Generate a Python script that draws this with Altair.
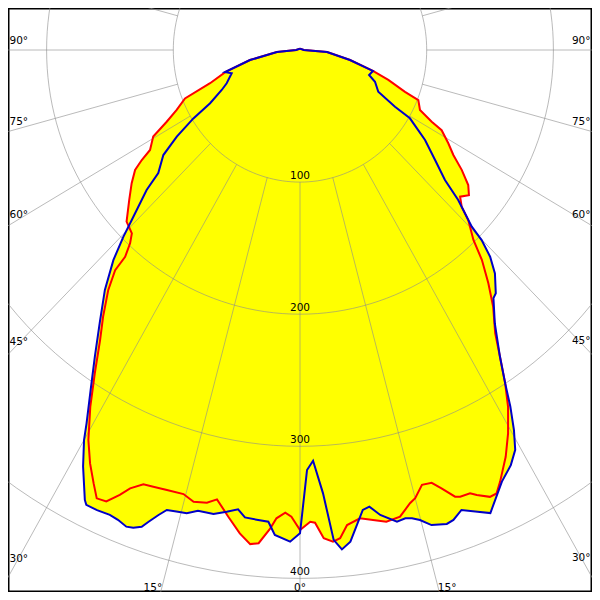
import math
import pandas as pd
import altair as alt

# ---------------- data (angle in degrees, intensity) ----------------
red_angle = [-180, -90, -85.3, -79.1, -74.2, -70.5, -68.0, -65.0, -62.7, -60.5, -57.4,
             -56.3, -55.1, -52.8, -49.9, -46.5, -43.7, -42.5, -41.4, -41.2, -39.8,
             -37.6, -35.7, -33.5, -31.5, -29.5, -27.9, -26.4, -25.3, -24.1, -22.9,
             -22.0, -20.6, -19.3, -17.5, -15.3, -13.8, -12.1, -10.9, -9.1, -7.4,
             -6.0, -5.0, -3.7, -3.0, -1.9, -1.1, 0, 1.3, 1.9, 2.9,
             4.0, 4.9, 5.9, 7.6, 9.2, 10.8, 12.6, 14.2, 15.0, 16.3,
             17.6, 18.6, 19.9, 20.5, 21.8, 22.5, 23.9, 24.8, 25.8, 27.8,
             29.5, 31.3, 32.7, 34.2, 35.7, 38.1, 40.1, 42.1, 43.6, 45.9,
             47.1, 48.7, 50.5, 52.4, 54.6, 56.7, 58.9, 61.5, 62.4, 64.4,
             67.9, 69.1, 72.0, 74.6, 79.1, 86.0, 90, 180]
red_value = [1, 3, 18.3, 40.2, 61.0, 75.3, 97.9, 107.4, 118.4, 133.1, 140.5,
             150.1, 158.7, 166.8, 176.2, 188.7, 192.1, 198.5, 208.7, 221.5, 236.4,
             254.7, 270.4, 293.4, 316.8, 339.2, 354.1, 366.3, 375.4, 374.4, 365.6,
             357.9, 351.3, 350.3, 349.3, 348.5, 352.1, 350.5, 346.4, 357.8, 369.0,
             376.1, 374.8, 362.9, 355.0, 350.5, 353.4, 363.4, 357.2, 358.0, 370.1,
             373.1, 370.9, 361.5, 357.7, 360.5, 363.6, 362.0, 353.9, 351.3, 343.0,
             343.7, 350.1, 359.6, 361.0, 361.4, 364.6, 370.0, 369.8, 362.9, 348.1,
             333.5, 316.1, 299.7, 280.8, 264.0, 247.1, 230.8, 214.1, 198.5, 184.9,
             174.2, 168.2, 172.8, 167.6, 156.6, 144.8, 136.7, 127.2, 117.3, 105.0,
             100.8, 88.7, 73.3, 59.7, 40.2, 21.4, 3, 1]

blue_angle = [-180, -90, -85.3, -79.1, -74.2, -71.9, -66.5, -63.9, -60.4, -58.4, -56.0,
              -53.6, -50.2, -48.8, -45.9, -44.6, -42.8, -40.3, -37.4, -34.9, -32.7,
              -30.8, -30.0, -28.5, -26.5, -26.1, -24.7, -23.1, -22.0, -20.8, -20.0,
              -19.1, -18.5, -17.6, -16.8, -15.6, -14.3, -13.0, -11.0, -9.4, -8.0,
              -7.0, -5.3, -4.0, -3.1, -1.2, 0, 1.0, 1.9, 3.1, 4.1,
              5.0, 6.1, 8.1, 9.0, 10.2, 12.1, 13.2, 14.0, 14.9, 16.1,
              17.9, 18.8, 20.1, 21.6, 23.2, 26.0, 27.9, 29.3, 30.4, 31.6,
              32.7, 34.2, 36.6, 39.1, 40.0, 42.3, 43.8, 44.9, 45.4, 47.7,
              49.3, 52.0, 55.4, 59.2, 60.2, 62.9, 67.9, 70.9, 74.6, 79.1,
              86.0, 90, 180]
blue_value = [1, 3, 18.3, 40.2, 61.5, 56.7, 63.1, 68.8, 81.6, 98.8, 117.3,
              134.0, 145.6, 160.9, 184.9, 198.6, 216.8, 238.1, 260.3, 283.0, 305.9,
              329.0, 340.9, 358.8, 380.6, 383.4, 383.4, 382.6, 383.6, 386.0, 384.8,
              381.9, 376.6, 369.3, 363.7, 362.8, 361.9, 357.9, 357.8, 354.3, 351.1,
              356.5, 357.3, 358.0, 367.6, 372.3, 365.9, 318.0, 311.1, 336.1, 371.8,
              379.5, 374.3, 351.7, 350.0, 357.6, 365.2, 364.1, 365.3, 368.2, 374.3,
              377.0, 375.8, 370.8, 375.8, 381.4, 363.5, 355.6, 347.1, 333.7, 316.8,
              299.7, 280.8, 257.9, 242.1, 240.4, 228.6, 216.8, 203.1, 190.4, 168.8,
              150.9, 135.3, 119.9, 101.0, 86.4, 69.4, 63.9, 57.7, 59.7, 40.2,
              21.4, 3, 1]

ring_values = [100, 200, 300, 400]
ray_angles = list(range(0, 360, 15))
side_label_angles = [90, 75, 60, 45, 30]
bottom_label_angles = [15, 0]

# ---------------- geometry of the diagram ----------------
W = H = 584                 # plot area (page margin is 8px)
CX, CY = 300.0, 50.0        # pole position in the 600x600 picture
KX, KY = 1.267, 1.321       # pixels per intensity unit (x, y)
P0, P1 = 8.0, 8.0 + W       # picture pixels covered by the plot
X_DOM = [(P0 - CX) / KX, (P1 - CX) / KX]
Y_DOM = [-(P1 - CY) / KY, (CY - P0) / KY]

xs = alt.Scale(domain=X_DOM, nice=False, zero=False)
ys = alt.Scale(domain=Y_DOM, nice=False, zero=False)


def enc(xf="x", yf="y", **kw):
    return dict(x=alt.X(f"{xf}:Q", scale=xs, axis=None),
                y=alt.Y(f"{yf}:Q", scale=ys, axis=None), **kw)


def to_units(px, py):
    return (px - CX) / KX, -(py - CY) / KY


# ---------------- tables ----------------
curve_df = pd.concat([
    pd.DataFrame({"series": "red", "i": range(len(red_angle)),
                  "angle": red_angle, "value": red_value}),
    pd.DataFrame({"series": "blue", "i": range(len(blue_angle)),
                  "angle": blue_angle, "value": blue_value}),
], ignore_index=True)

circ_rows = []
for r in ring_values:
    for k, a in enumerate(range(0, 361, 2)):
        circ_rows.append({"ring": r, "i": k, "angle": a, "value": r})
circle_df = pd.DataFrame(circ_rows)

ray_df = pd.DataFrame({"angle": ray_angles})

label_rows = []
for a in side_label_angles:
    s, c = math.sin(math.radians(a)), math.cos(math.radians(a))
    slope = (KY * c) / (KX * s)
    off = -4.24 - 0.1533 * (a - 60)
    for xe, xc, al in [(9.5, 18.3, "left"), (590.5, 581.0, "right")]:
        py = CY + abs(CX - xc) * slope + off
        ux, uy = to_units(xe, py)
        label_rows.append({"t": f"{a}°", "x": ux, "y": uy, "al": al})
for a in bottom_label_angles:
    s, c = math.sin(math.radians(a)), math.cos(math.radians(a))
    py = 587.5
    dx = (py - CY) * (KX * s) / (KY * c)
    sides = [0] if a == 0 else [-1, 1]
    for sd in sides:
        px = CX + sd * (dx + 9)
        ux, uy = to_units(px, py)
        label_rows.append({"t": f"{a}°", "x": ux, "y": uy, "al": "center"})
label_df = pd.DataFrame(label_rows)

ring_label_df = pd.DataFrame({"t": [str(r) for r in ring_values],
                              "x": [0.0] * len(ring_values),
                              "y": [-float(r) for r in ring_values]})

FONT = "DejaVu Sans"
FS = 10.5

# ---------------- layers ----------------
curves = alt.Chart(curve_df).transform_calculate(
    x="datum.value * sin(datum.angle * PI / 180)",
    y="-datum.value * cos(datum.angle * PI / 180)")

fill_layer = curves.mark_line(fill="#ffff00", strokeOpacity=0).encode(
    **enc(detail="series:N", order="i:Q"))

circles = alt.Chart(circle_df).transform_calculate(
    x="datum.value * sin(datum.angle * PI / 180)",
    y="-datum.value * cos(datum.angle * PI / 180)"
).mark_line(color="#8c8c8c", strokeWidth=1, opacity=0.6, clip=True).encode(
    **enc(detail="ring:N", order="i:Q"))

rays = alt.Chart(ray_df).transform_calculate(
    x="100 * sin(datum.angle * PI / 180)",
    y="-100 * cos(datum.angle * PI / 180)",
    x2="700 * sin(datum.angle * PI / 180)",
    y2="-700 * cos(datum.angle * PI / 180)"
).mark_rule(color="#8c8c8c", strokeWidth=1, opacity=0.6, clip=True).encode(
    **enc(x2="x2:Q", y2="y2:Q"))

red_line = curves.transform_filter("datum.series == 'red'").mark_line(
    color="#ff0000", strokeWidth=2).encode(**enc(order="i:Q"))
blue_line = curves.transform_filter("datum.series == 'blue'").mark_line(
    color="#0000c8", strokeWidth=2).encode(**enc(order="i:Q"))

text_layers = []
for al in ["left", "right", "center"]:
    text_layers.append(
        alt.Chart(label_df).transform_filter(f"datum.al == '{al}'").mark_text(
            align=al, baseline="middle", font=FONT, fontSize=FS, color="black"
        ).encode(**enc(text="t:N")))

ring_text = alt.Chart(ring_label_df).mark_text(
    align="center", baseline="alphabetic", dy=-3, font=FONT, fontSize=FS,
    color="black").encode(**enc(text="t:N"))

chart = alt.layer(
    fill_layer, circles, rays, red_line, blue_line, ring_text, *text_layers
).properties(
    width=W, height=H, padding=0,
    autosize=alt.AutoSizeParams(type="none"),
    background="white",
).configure_view(stroke="black", strokeWidth=3)

chart.save("out.html", embed_options={"renderer": "svg", "actions": False})
